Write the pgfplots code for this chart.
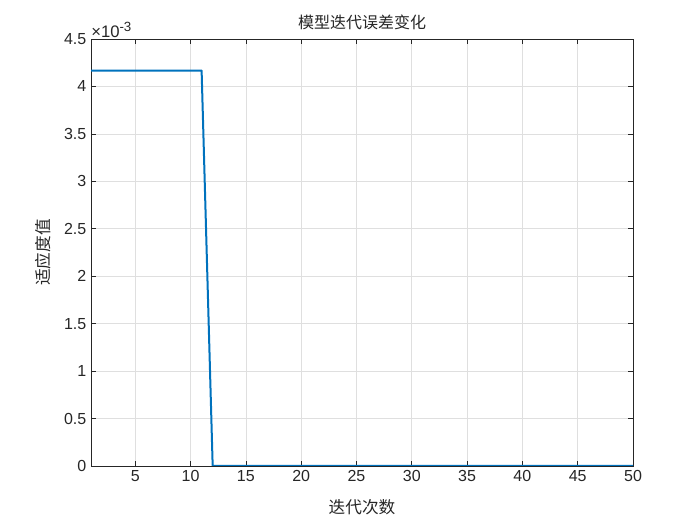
\documentclass[border=0pt]{standalone}
\usepackage{fontspec}
\setmainfont{Liberation Sans}
\newfontfamily\cjk{Noto Sans CJK SC}
\usepackage{pgfplots}
\pgfplotsset{compat=1.18}
\definecolor{mblue}{rgb}{0,0.447,0.741}
\definecolor{axgray}{rgb}{0.15,0.15,0.15}
\begin{document}
\begin{tikzpicture}[x=0.75pt,y=0.75pt]
\useasboundingbox (0,0) rectangle (700,525);
\begin{axis}[
  at={(91*0.75pt,59*0.75pt)}, anchor=south west,
  scale only axis, width=406.5pt, height=320.25pt,
  xmin=1, xmax=50, ymin=0, ymax=0.0045,
  xtick={5,10,...,50},
  ytick={0,0.0005,0.001,0.0015,0.002,0.0025,0.003,0.0035,0.004,0.0045},
  scaled y ticks=base 10:3,
  ytick scale label code/.code={×10\raisebox{0.6ex}{\fontsize{10}{11}\selectfont -3}},
  every y tick scale label/.style={at={(rel axis cs:0,1)}, anchor=south west, inner sep=1pt, xshift=-1pt, font=\fontsize{12.5}{13}\selectfont, text=axgray},
  y tick label style={/pgf/number format/fixed, /pgf/number format/precision=1},
  /pgf/number format/assume math mode=true,
  tick label style={font=\fontsize{12}{13}\selectfont, text=axgray},
  grid=major, major grid style={gray!25, line width=0.5pt},
  axis line style={axgray, line width=0.5pt},
  tick style={axgray, line width=0.5pt},
  tick align=inside, major tick length=4pt,
  xtick pos=both, ytick pos=both,
  title={\cjk 模型迭代误差变化},
  title style={font=\fontsize{12}{13}\selectfont, text=axgray, yshift=-3pt},
  xlabel={\cjk 迭代次数},
  ylabel={\cjk 适应度值},
  label style={font=\fontsize{12.5}{14}\selectfont, text=axgray},
  xlabel style={yshift=-6pt},
  ylabel style={yshift=3pt},
]
\addplot[mblue, line width=1.5pt, line join=round] coordinates {
(1,0.004167) (2,0.004167) (3,0.004167) (4,0.004167) (5,0.004167) (6,0.004167)
(7,0.004167) (8,0.004167) (9,0.004167) (10,0.004167) (11,0.004167)
(12,0) (13,0) (14,0) (15,0) (20,0) (25,0) (30,0) (35,0) (40,0) (45,0) (50,0)
};
\end{axis}
\end{tikzpicture}
\end{document}
